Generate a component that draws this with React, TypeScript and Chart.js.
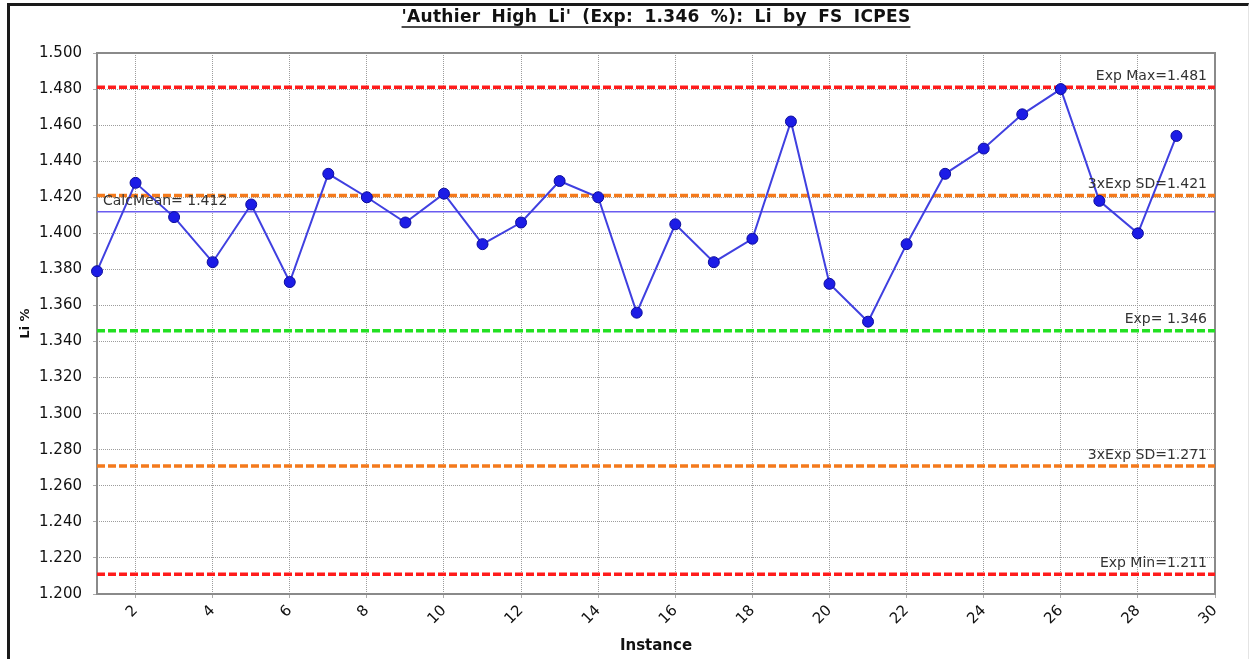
import React, { useEffect, useRef } from 'react';
import { Chart, registerables } from 'chart.js';

Chart.register(...registerables);

// Li % measured by FS ICPES for each instance
const instances = [
  1, 2, 3, 4, 5, 6, 7, 8, 9, 10, 11, 12, 13, 14, 15, 16, 17, 18, 19, 20,
  21, 22, 23, 24, 25, 26, 27, 28, 29,
];
const liValues = [
  1.379, 1.428, 1.409, 1.384, 1.416, 1.373, 1.433, 1.42, 1.406, 1.422,
  1.394, 1.406, 1.429, 1.42, 1.356, 1.405, 1.384, 1.397, 1.462, 1.372,
  1.351, 1.394, 1.433, 1.447, 1.466, 1.48, 1.418, 1.4, 1.454,
];

// Control limits
const limitKinds = ['max', 'sd', 'mean', 'exp', 'sd', 'min'];
const limitValues = [1.481, 1.421, 1.412, 1.346, 1.271, 1.211];
const limitLabels = [
  'Exp Max=1.481',
  '3xExp SD=1.421',
  'CalcMean= 1.412',
  'Exp= 1.346',
  '3xExp SD=1.271',
  'Exp Min=1.211',
];

// Axis ticks
const xTicks = [2, 4, 6, 8, 10, 12, 14, 16, 18, 20, 22, 24, 26, 28, 30];
const yTicks = [
  1.2, 1.22, 1.24, 1.26, 1.28, 1.3, 1.32, 1.34, 1.36, 1.38, 1.4, 1.42,
  1.44, 1.46, 1.48, 1.5,
];
const xRange = [1, 30];
const yRange = [1.2, 1.5];

const chartTitle = "'Authier High Li' (Exp: 1.346 %): Li by FS ICPES";
const xTitle = 'Instance';
const yTitle = 'Li %';

const FONT = "'DejaVu Sans', Verdana, sans-serif";

const limitStyles: Record<string, { color: string; width: number; dash: number[] }> = {
  max: { color: '#ff1c1c', width: 3.5, dash: [8, 3] },
  min: { color: '#ff1c1c', width: 3.5, dash: [8, 3] },
  sd: { color: '#f47a1c', width: 3.5, dash: [8, 3] },
  exp: { color: '#22e022', width: 3.5, dash: [8, 3] },
  mean: { color: '#6a5cf0', width: 1.5, dash: [] },
};

// Title, plot frame and limit captions
const decorations = {
  id: 'decorations',
  beforeDatasetsDraw(chart: any) {
    const { ctx, chartArea } = chart;
    ctx.save();
    ctx.strokeStyle = '#8a8a8a';
    ctx.lineWidth = 2;
    ctx.strokeRect(
      chartArea.left,
      chartArea.top,
      chartArea.right - chartArea.left,
      chartArea.bottom - chartArea.top
    );
    ctx.restore();
  },
  afterDatasetsDraw(chart: any) {
    const { ctx, chartArea, scales } = chart;
    ctx.save();
    ctx.font = `14px ${FONT}`;
    ctx.fillStyle = '#333';
    ctx.textBaseline = 'middle';
    limitValues.forEach((v, i) => {
      const y = scales.y.getPixelForValue(v);
      if (limitKinds[i] === 'mean') {
        ctx.textAlign = 'left';
        ctx.fillText(limitLabels[i], chartArea.left + 6, y - 10);
      } else {
        ctx.textAlign = 'right';
        ctx.fillText(limitLabels[i], chartArea.right - 8, y - 11);
      }
    });
    ctx.restore();
  },
  afterDraw(chart: any) {
    const { ctx, chartArea } = chart;
    ctx.save();
    ctx.font = `bold 17px ${FONT}`;
    ctx.fillStyle = '#111';
    ctx.textAlign = 'left';
    ctx.textBaseline = 'middle';
    (ctx as any).letterSpacing = '0.3px';
    (ctx as any).wordSpacing = '5px';
    const cx = (chartArea.left + chartArea.right) / 2;
    const ty = 18;
    const w = ctx.measureText(chartTitle).width;
    ctx.fillText(chartTitle, cx - w / 2, ty);
    ctx.strokeStyle = '#111';
    ctx.lineWidth = 1.5;
    ctx.beginPath();
    ctx.moveTo(cx - w / 2, ty + 9);
    ctx.lineTo(cx + w / 2, ty + 9);
    ctx.stroke();
    ctx.restore();
  },
};

export default function App() {
  const canvasRef = useRef<HTMLCanvasElement | null>(null);

  useEffect(() => {
    if (!canvasRef.current) return;

    const seriesData = instances.map((x, i) => ({ x, y: liValues[i] }));
    const limitSets = limitValues.map((v, i) => {
      const st = limitStyles[limitKinds[i]];
      return {
        label: limitLabels[i],
        data: [
          { x: xRange[0], y: v },
          { x: xRange[1], y: v },
        ],
        borderColor: st.color,
        borderWidth: st.width,
        borderDash: st.dash,
        pointRadius: 0,
        fill: false,
      };
    });

    const gridStyle = {
      color: '#9c9c9c',
      lineWidth: 1,
      tickLength: 4,
      tickColor: '#aaa',
    };

    const chart = new Chart(canvasRef.current, {
      type: 'line',
      data: {
        datasets: [
          {
            label: 'Li %',
            data: seriesData,
            borderColor: '#4040e0',
            borderWidth: 2,
            backgroundColor: '#1c1ce6',
            pointBackgroundColor: '#1c1ce6',
            pointBorderColor: '#0c0c9c',
            pointBorderWidth: 1,
            pointRadius: 5.5,
            tension: 0,
            clip: false,
          } as any,
          ...limitSets,
        ],
      },
      options: {
        animation: false,
        responsive: false,
        maintainAspectRatio: false,
        layout: { padding: { top: 53, right: 39, left: 0, bottom: 0 } },
        plugins: {
          legend: { display: false },
          tooltip: { enabled: false },
          title: { display: false },
        },
        scales: {
          x: {
            type: 'linear',
            min: xRange[0],
            max: xRange[1],
            afterBuildTicks: (s: any) => {
              s.ticks = xTicks.map((value) => ({ value }));
            },
            afterFit: (s: any) => {
              s.height = 65;
            },
            ticks: {
              autoSkip: false,
              minRotation: 45,
              maxRotation: 45,
              padding: 4,
              color: '#111',
              font: { family: FONT, size: 15 },
              callback: (v: any) => String(v),
            },
            grid: gridStyle,
            border: { display: false, dash: [1, 1] },
            title: {
              display: true,
              text: xTitle,
              color: '#111',
              font: { family: FONT, size: 15, weight: 'bold' },
              padding: { top: 0, bottom: 4 },
            },
          },
          y: {
            type: 'linear',
            min: yRange[0],
            max: yRange[1],
            afterBuildTicks: (s: any) => {
              s.ticks = yTicks.map((value) => ({ value }));
            },
            afterFit: (s: any) => {
              s.width = 97;
            },
            ticks: {
              padding: 11,
              color: '#111',
              font: { family: FONT, size: 15 },
              callback: (v: any) => Number(v).toFixed(3),
            },
            grid: gridStyle,
            border: { display: false, dash: [1, 1] },
            title: {
              display: true,
              text: yTitle,
              color: '#111',
              font: { family: FONT, size: 13, weight: 'bold' },
              padding: { top: 18, bottom: 0 },
            },
          },
        },
      } as any,
      plugins: [decorations],
    });

    return () => chart.destroy();
  }, []);

  return (
    <div
      style={{
        position: 'fixed',
        left: 0,
        top: 0,
        width: 1254,
        height: 659,
        background: '#fff',
        overflow: 'hidden',
      }}
    >
      <div
        style={{
          position: 'absolute',
          left: 7,
          top: 3,
          width: 1238,
          height: 720,
          borderLeft: '3px solid #1a1a1a',
          borderTop: '3px solid #1a1a1a',
          borderRight: '1px solid #e4e4e4',
        }}
      />
      <canvas
        ref={canvasRef}
        width={1254}
        height={659}
        style={{ position: 'absolute', left: 0, top: 0 }}
      />
    </div>
  );
}
